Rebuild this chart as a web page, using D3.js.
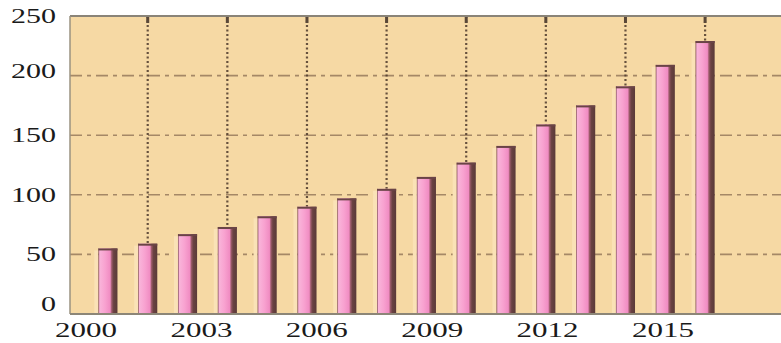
<!DOCTYPE html>
<html>
<head>
<meta charset="utf-8">
<script src="https://cdn.jsdelivr.net/npm/d3@7"></script>
<style>
  body { margin: 0; background: #fff; }
  .lbl { font-family: "Liberation Serif", "Times New Roman", serif; font-size: 20px; fill: #1a1a1a; }
</style>
</head>
<body>
<script>
// data
const years = [2000, 2001, 2002, 2003, 2004, 2005, 2006, 2007, 2008, 2009, 2010, 2011, 2012, 2013, 2014, 2015];
const values = [55, 59, 67, 73, 82, 90, 97, 105, 115, 127, 141, 159, 175, 191, 209, 229];
const yTicks = [0, 50, 100, 150, 200, 250];
const xTickLabels = [2000, 2003, 2006, 2009, 2012, 2015];
const gridYears = [2001, 2003, 2005, 2007, 2009, 2011, 2013, 2015]; // dotted verticals

const w = 781, h = 343;
const plotLeft = 70, plotTop = 16, plotBottom = 314, plotRight = 781;

const svg = d3.select("body").append("svg")
  .attr("width", w)
  .attr("height", h);

// gradient for the bars (light left edge, pink body, dark right side)
const defs = svg.append("defs");
const grad = defs.append("linearGradient").attr("id", "barGrad");
[[0, "#7d4a52"], [0.07, "#f9b4da"], [0.35, "#f8a2d0"], [0.62, "#f08cc2"], [0.7, "#9a5a68"], [0.8, "#6a4242"], [1, "#5a3a38"]]
  .forEach(s => grad.append("stop").attr("offset", s[0]).attr("stop-color", s[1]));

// scales
const x = d3.scaleBand()
  .domain(years)
  .range([88, 725])
  .paddingInner(0.52)
  .paddingOuter(0.26);

const labelX = d3.scaleLinear()
  .domain([2000, 2015])
  .range([86, 663]);

const y = d3.scaleLinear()
  .domain([0, 250])
  .range([plotBottom, plotTop]);

// plot background
svg.append("rect")
  .attr("x", plotLeft).attr("y", plotTop)
  .attr("width", plotRight - plotLeft).attr("height", plotBottom - plotTop)
  .attr("fill", "#f6d9a4");

// horizontal dashed grid
svg.selectAll(".hgrid")
  .data(yTicks.filter(d => d > 0 && d < 250))
  .enter().append("line")
  .attr("class", "hgrid")
  .attr("x1", plotLeft).attr("x2", plotRight)
  .attr("y1", d => y(d)).attr("y2", d => y(d))
  .attr("stroke", "#7a5e46")
  .attr("stroke-width", 1.6)
  .attr("stroke-dasharray", "12,5,4,5")
  .attr("opacity", 0.65);

// vertical dotted grid, from top down to the bar
const vIndex = gridYears.map(yr => years.indexOf(yr));
svg.selectAll(".vgrid")
  .data(vIndex)
  .enter().append("line")
  .attr("class", "vgrid")
  .attr("x1", i => x(years[i]) + x.bandwidth() / 2)
  .attr("x2", i => x(years[i]) + x.bandwidth() / 2)
  .attr("y1", plotTop)
  .attr("y2", i => y(values[i]))
  .attr("stroke", "#4e3a2c")
  .attr("stroke-width", 2.2)
  .attr("stroke-dasharray", "2,2.5")
  .attr("opacity", 0.85);

// little dark ticks on top of the dotted lines
svg.selectAll(".vtick")
  .data(vIndex)
  .enter().append("rect")
  .attr("x", i => x(years[i]) + x.bandwidth() / 2 - 1.5)
  .attr("y", plotTop)
  .attr("width", 3)
  .attr("height", 7)
  .attr("fill", "#5a4838");

// bars: light strip on the left, then the shaded column
svg.selectAll(".glow")
  .data(values)
  .enter().append("rect")
  .attr("x", (d, i) => x(years[i]) - 4)
  .attr("y", d => y(d) + 2)
  .attr("width", 4)
  .attr("height", d => plotBottom - y(d) - 2)
  .attr("fill", "#fae2b6");

svg.selectAll(".bar")
  .data(values)
  .enter().append("rect")
  .attr("class", "bar")
  .attr("x", (d, i) => x(years[i]))
  .attr("y", d => y(d))
  .attr("width", x.bandwidth())
  .attr("height", d => plotBottom - y(d))
  .attr("fill", "url(#barGrad)");

svg.selectAll(".cap")
  .data(values)
  .enter().append("rect")
  .attr("x", (d, i) => x(years[i]))
  .attr("y", d => y(d))
  .attr("width", x.bandwidth())
  .attr("height", 2)
  .attr("fill", "#6a4446");

// frame
svg.append("line")
  .attr("x1", plotLeft).attr("x2", plotRight).attr("y1", plotTop).attr("y2", plotTop)
  .attr("stroke", "#8a8478").attr("stroke-width", 1.8);
svg.append("line")
  .attr("x1", plotLeft).attr("x2", plotLeft).attr("y1", plotTop).attr("y2", plotBottom)
  .attr("stroke", "#9a9280").attr("stroke-width", 1.5);
svg.append("line")
  .attr("x1", plotLeft).attr("x2", plotRight).attr("y1", plotBottom).attr("y2", plotBottom)
  .attr("stroke", "#8c8678").attr("stroke-width", 1.8);

// y labels
svg.selectAll(".ylab")
  .data(yTicks)
  .enter().append("text")
  .attr("class", "lbl")
  .attr("x", 56)
  .attr("y", d => y(d) + (d === 0 ? -10 : (d === 200 ? -4 : 0)))
  .attr("dy", "0.34em")
  .attr("text-anchor", "end")
  .attr("textLength", d => String(d).length * 15)
  .attr("lengthAdjust", "spacingAndGlyphs")
  .text(d => d);

// x labels
svg.selectAll(".xlab")
  .data(xTickLabels)
  .enter().append("text")
  .attr("class", "lbl")
  .attr("x", d => labelX(d))
  .attr("y", 337)
  .attr("text-anchor", "middle")
  .attr("textLength", 62)
  .attr("lengthAdjust", "spacingAndGlyphs")
  .text(d => d);
</script>
</body>
</html>
